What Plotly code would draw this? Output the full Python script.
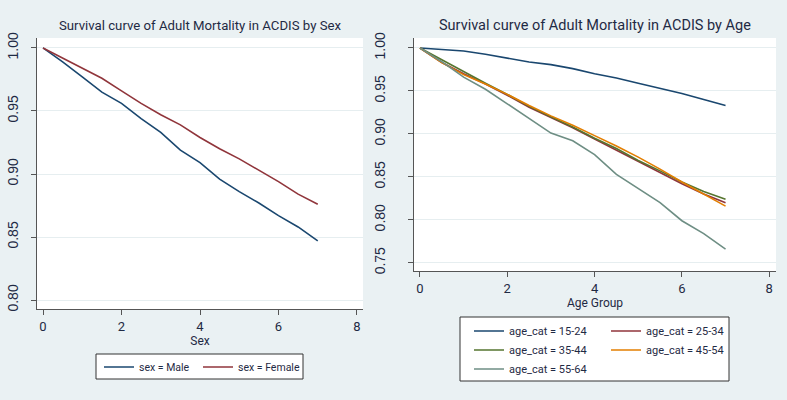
import plotly.graph_objects as go

# ---------------- data ----------------
time = [0, 0.5, 1, 1.5, 2, 2.5, 3, 3.5, 4, 4.5, 5, 5.5, 6, 6.5, 7]

male = [1.0, 0.989, 0.977, 0.965, 0.956, 0.944, 0.933, 0.919, 0.909, 0.896, 0.886, 0.877, 0.867, 0.858, 0.847]
female = [1.0, 0.992, 0.984, 0.976, 0.966, 0.956, 0.947, 0.939, 0.929, 0.920, 0.912, 0.903, 0.894, 0.884, 0.876]

age_15_24 = [1.0, 0.998, 0.9965, 0.9926, 0.988, 0.9837, 0.9806, 0.976, 0.970, 0.965, 0.959, 0.953, 0.947, 0.940, 0.933]
age_25_34 = [1.0, 0.983, 0.970, 0.958, 0.945, 0.931, 0.919, 0.907, 0.894, 0.881, 0.868, 0.855, 0.842, 0.830, 0.820]
age_35_44 = [1.0, 0.986, 0.972, 0.959, 0.946, 0.932, 0.920, 0.908, 0.895, 0.883, 0.869, 0.857, 0.844, 0.833, 0.824]
age_45_54 = [1.0, 0.983, 0.969, 0.958, 0.946, 0.933, 0.921, 0.910, 0.898, 0.886, 0.873, 0.859, 0.844, 0.830, 0.816]
age_55_64 = [1.0, 0.984, 0.966, 0.952, 0.935, 0.918, 0.901, 0.892, 0.876, 0.853, 0.836, 0.820, 0.799, 0.784, 0.766]

sex_names = ["sex = Male", "sex = Female"]
age_names = ["age_cat = 15-24", "age_cat = 25-34", "age_cat = 35-44", "age_cat = 45-54", "age_cat = 55-64"]

x_ticks = [0, 2, 4, 6, 8]
y_ticks_left = [0.80, 0.85, 0.90, 0.95, 1.00]
y_ticks_right = [0.75, 0.80, 0.85, 0.90, 0.95, 1.00]

titles = ["Survival curve of Adult Mortality in ACDIS by Sex",
          "Survival curve of Adult Mortality in ACDIS by Age"]
x_titles = ["Sex", "Age Group"]

# ---------------- style ----------------
W, H = 787, 400
BG = "#EAF1F3"
FONT = "Roboto, Liberation Sans, Arial, sans-serif"
WIDE = "Liberation Sans, Arial, sans-serif"
TXT = "#1f2a44"
colors = ["#1a476f", "#90353b", "#55752f", "#e37e00", "#6e8e84"]

fig = go.Figure()

# legend ids: sex legend split into two single-entry legends, age legend into two columns
sex_legends = ["legend", "legend4"]
age_legends = ["legend2", "legend3", "legend2", "legend3", "legend2"]

for name, vals, col, lg in zip(sex_names, [male, female], colors[:2], sex_legends):
    fig.add_trace(go.Scatter(x=time, y=vals, mode="lines", name=name,
                             line=dict(color=col, width=1.6),
                             xaxis="x", yaxis="y", legend=lg))

for name, vals, col, lg in zip(age_names, [age_15_24, age_25_34, age_35_44, age_45_54, age_55_64],
                               colors, age_legends):
    fig.add_trace(go.Scatter(x=time, y=vals, mode="lines", name=name,
                             line=dict(color=col, width=1.6),
                             xaxis="x2", yaxis="y2", legend=lg))


def xaxis(domain, rng, anchor, title):
    return dict(domain=domain, range=rng, anchor=anchor, tickvals=x_ticks,
                ticks="outside", ticklen=5, tickcolor="#555", tickwidth=1,
                showline=True, linecolor="#555", linewidth=1, showgrid=False,
                zeroline=False, tickfont=dict(family=FONT, size=13, color=TXT),
                title=dict(text=title, font=dict(family=FONT, size=12, color=TXT), standoff=0))


def yaxis(domain, rng, anchor, ticks, standoff):
    return dict(domain=domain, range=rng, anchor=anchor, tickvals=ticks,
                ticktext=["%.2f" % t for t in ticks],
                ticks="outside", ticklen=5, tickcolor="#555", tickwidth=1,
                showline=True, linecolor="#555", linewidth=1,
                showgrid=True, gridcolor="#E6EEF0", gridwidth=1,
                zeroline=False, tickangle=-90, ticklabelstandoff=standoff,
                tickfont=dict(family=WIDE, size=14, color=TXT))


def legend(x0, top, size):
    return dict(orientation="v", x=x0 / W, xanchor="left", y=1 - top / H, yanchor="top",
                xref="paper", yref="paper", bgcolor="rgba(0,0,0,0)", borderwidth=0,
                font=dict(family=FONT, size=size, color=TXT), itemwidth=30,
                tracegroupgap=0)


fig.update_layout(
    width=W, height=H, margin=dict(l=0, r=0, t=0, b=0, autoexpand=False),
    paper_bgcolor=BG, plot_bgcolor="white",
    xaxis=xaxis([37 / W, 363 / W], [-0.153, 8.153], "y", x_titles[0]),
    yaxis=yaxis([1 - 309 / H, 1 - 38 / H], [0.7929, 1.0079], "x", y_ticks_left, 7),
    xaxis2=xaxis([414 / W, 776 / W], [-0.137, 8.156], "y2", x_titles[1]),
    yaxis2=yaxis([1 - 271 / H, 1 - 38 / H], [0.7405, 1.0116], "x2", y_ticks_right, 17),
    legend=legend(99, 352.5, 10.5),
    legend4=legend(198, 352.5, 10.5),
    legend2=legend(469, 316.5, 11),
    legend3=legend(606, 316.5, 11),
    showlegend=True,
    shapes=[
        dict(type="rect", xref="paper", yref="paper", x0=96 / W, x1=303 / W,
             y0=1 - 379 / H, y1=1 - 354 / H, fillcolor="white",
             line=dict(color="#333", width=1), layer="below"),
        dict(type="rect", xref="paper", yref="paper", x0=460 / W, x1=729 / W,
             y0=1 - 381 / H, y1=1 - 317 / H, fillcolor="white",
             line=dict(color="#333", width=1), layer="below"),
    ],
    annotations=[
        dict(text=titles[0], x=200 / W, y=1 - 26 / H, xref="paper", yref="paper",
             xanchor="center", yanchor="middle", showarrow=False,
             font=dict(family=FONT, size=13.2, color=TXT)),
        dict(text=titles[1], x=595 / W, y=1 - 26 / H, xref="paper", yref="paper",
             xanchor="center", yanchor="middle", showarrow=False,
             font=dict(family=FONT, size=14.5, color=TXT)),
    ],
)

fig.write_html("out.html", config={"displayModeBar": False},
               post_script="document.body.style.margin='0';")
